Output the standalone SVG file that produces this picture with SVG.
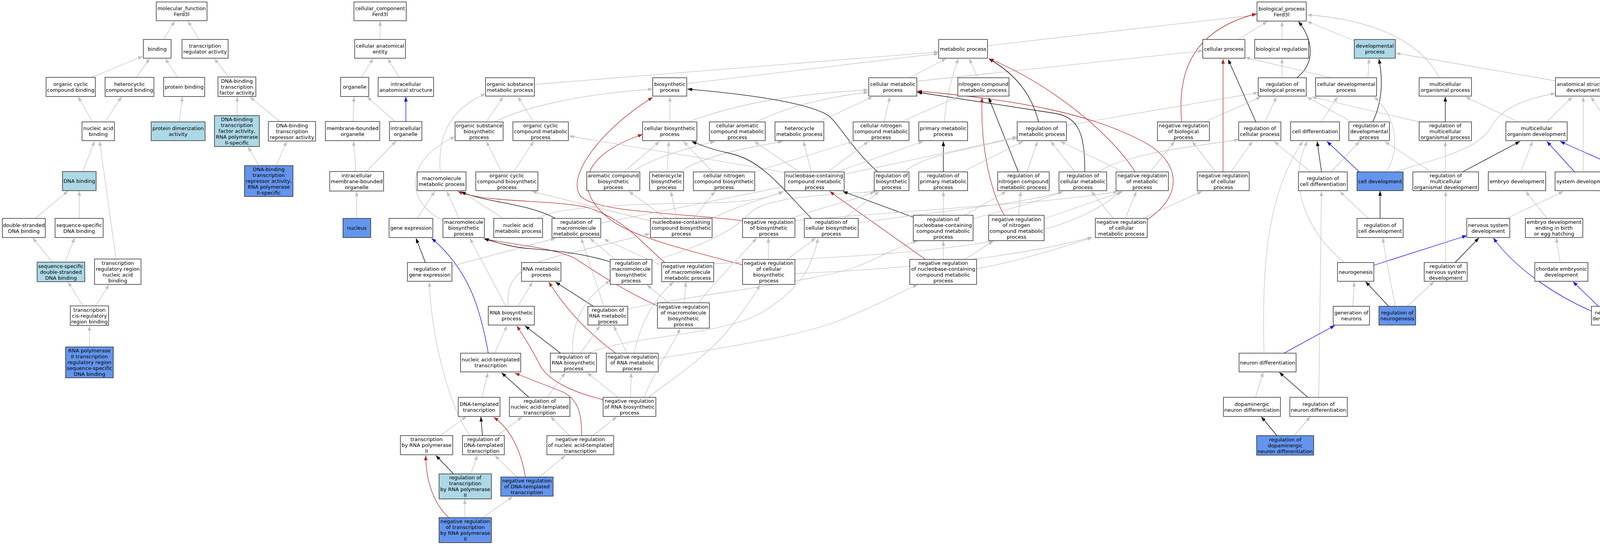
<svg xmlns="http://www.w3.org/2000/svg" width="4370" height="1395" viewBox="0 0 4370 1395">
<defs>
<style>
.n rect{fill:#fff;stroke:#222;stroke-width:1.4}
.lb rect{fill:#add8e6}
.db rect{fill:#6495ed}
text{font-family:"DejaVu Sans","Liberation Sans",sans-serif;font-size:13px;text-anchor:middle;fill:#000}
#edges path{fill:none;stroke-width:1.3}
.g{stroke:#c0c0c0;marker-end:url(#ag)}
.k{stroke:#000;marker-end:url(#ak)}
.b{stroke:#0000ff;marker-end:url(#ab)}
.r{stroke:#b22222;marker-end:url(#ar)}
</style>
<marker id="ag" viewBox="0 0 12 9" refX="12" refY="4.5" markerWidth="12" markerHeight="9" markerUnits="userSpaceOnUse" orient="auto"><path d="M0,0L12,4.5L0,9z" fill="#c0c0c0"/></marker>
<marker id="ak" viewBox="0 0 12 9" refX="12" refY="4.5" markerWidth="12" markerHeight="9" markerUnits="userSpaceOnUse" orient="auto"><path d="M0,0L12,4.5L0,9z" fill="#000"/></marker>
<marker id="ab" viewBox="0 0 12 9" refX="12" refY="4.5" markerWidth="12" markerHeight="9" markerUnits="userSpaceOnUse" orient="auto"><path d="M0,0L12,4.5L0,9z" fill="#0000ff"/></marker>
<marker id="ar" viewBox="0 0 12 9" refX="12" refY="4.5" markerWidth="12" markerHeight="9" markerUnits="userSpaceOnUse" orient="auto"><path d="M0,0L12,4.5L0,9z" fill="#b22222"/></marker>
</defs>
<rect x="0" y="0" width="4370" height="1395" fill="#fff"/>
<g id="edges">
<path class="g" d="M419,101L447,54"/>
<path class="g" d="M510,101L481,54"/>
<path class="g" d="M235,198L365,144"/>
<path class="g" d="M349,198L383,150"/>
<path class="g" d="M455,198L423,150"/>
<path class="g" d="M585,197L549,150"/>
<path class="g" d="M237,312L200,248"/>
<path class="g" d="M269,312L311,248"/>
<path class="g" d="M459,312L467,248"/>
<path class="g" d="M607,296L607,248"/>
<path class="g" d="M716,311L640,248"/>
<path class="g" d="M663,424L635,376"/>
<path class="g" d="M707,424L734,362"/>
<path class="g" d="M212,439L242,361"/>
<path class="g" d="M297,663L255,361"/>
<path class="g" d="M90,559L174,489"/>
<path class="g" d="M203,559L203,489"/>
<path class="g" d="M134,671L84,609"/>
<path class="g" d="M167,671L191,609"/>
<path class="g" d="M213,783L174,722"/>
<path class="g" d="M245,783L279,729"/>
<path class="g" d="M229,888L229,834"/>
<path class="g" d="M973,101L973,54"/>
<path class="g" d="M925,198L955,150"/>
<path class="g" d="M1022,198L993,150"/>
<path class="g" d="M904,311L906,248"/>
<path class="g" d="M1011,311L940,248"/>
<path class="b" d="M1039,311L1039,248"/>
<path class="g" d="M911,439L905,361"/>
<path class="g" d="M938,439L1014,361"/>
<path class="g" d="M913,559L913,490"/>
<path class="g" d="M3170,101L3244,55"/>
<path class="g" d="M3282,101L3282,55"/>
<path class="g" d="M3467,104L3346,55"/>
<path class="g" d="M2528,117L3217,38"/>
<path class="g" d="M3684,199C3640,110 3520,50 3346,38"/>
<path class="g" d="M3982,207L3573,136"/>
<path class="k" d="M3320,199C3370,160 3360,100 3324,55"/>
<path class="g" d="M3282,199L3282,150"/>
<path class="r" d="M3025,312C3015,200 3040,80 3217,35"/>
<path class="g" d="M3408,199L3188,147"/>
<path class="g" d="M3502,199L3505,150"/>
<path class="g" d="M2329,199L2422,150"/>
<path class="g" d="M2347,208L3079,130"/>
<path class="g" d="M2503,199L2481,150"/>
<path class="g" d="M2418,312C2420,250 2440,190 2453,150"/>
<path class="k" d="M2659,312C2640,240 2600,190 2531,150"/>
<path class="g" d="M2730,321L3221,237"/>
<path class="r" d="M2906,440C2850,350 2700,220 2532,150"/>
<path class="r" d="M2937,562C3030,500 3020,420 2940,370C2800,290 2600,255 2348,233"/>
<path class="k" d="M2777,440C2778,340 2760,300 2700,290L2348,236"/>
<path class="k" d="M2607,440L2531,250"/>
<path class="r" d="M2571,551C2530,480 2510,360 2514,250"/>
<path class="g" d="M2263,312L2278,248"/>
<path class="g" d="M2307,312L2452,248"/>
<path class="g" d="M2096,312L2234,248"/>
<path class="g" d="M1936,312C2000,280 2100,250 2223,236"/>
<path class="g" d="M1762,312C1900,260 2050,240 2223,230"/>
<path class="g" d="M1715,312L1715,248"/>
<path class="g" d="M1368,216L2403,133"/>
<path class="g" d="M1758,214L2403,137"/>
<path class="g" d="M1267,312C1350,270 1500,240 1671,228"/>
<path class="g" d="M1245,312L1288,248"/>
<path class="g" d="M1366,312L1326,248"/>
<path class="g" d="M1127,440C1120,350 1150,280 1243,240"/>
<path class="k" d="M2247,440C2180,380 2150,320 2120,295C2060,260 1900,240 1760,228"/>
<path class="r" d="M1901,565C1750,545 1520,545 1485,500C1450,450 1540,330 1671,249"/>
<path class="r" d="M1901,678C1800,650 1620,610 1560,560C1470,490 1480,400 1645,344"/>
<path class="k" d="M3215,312L3144,152"/>
<path class="g" d="M3084,312L3228,248"/>
<path class="g" d="M3238,312L3268,248"/>
<path class="g" d="M3383,312L3424,248"/>
<path class="g" d="M3460,312L3346,248"/>
<path class="g" d="M3633,312L3358,248"/>
<path class="k" d="M3514,312C3540,260 3540,200 3530,151"/>
<path class="k" d="M3700,312L3700,248"/>
<path class="g" d="M3886,312L3752,248"/>
<path class="g" d="M3960,312L4025,248"/>
<path class="g" d="M4204,312L4099,248"/>
<path class="g" d="M3408,440L3480,362"/>
<path class="k" d="M3383,440L3372,362"/>
<path class="g" d="M3355,440L3262,362"/>
<path class="b" d="M3480,440L3397,362"/>
<path class="g" d="M3548,440C3590,380 3570,290 3517,248"/>
<path class="g" d="M3571,440C3700,400 3790,380 3820,320C3850,270 3920,250 3982,239"/>
<path class="g" d="M3700,440L3700,362"/>
<path class="k" d="M3744,440L3891,362"/>
<path class="g" d="M3664,440L3545,362"/>
<path class="g" d="M3893,440L3923,362"/>
<path class="b" d="M4031,440L3960,362"/>
<path class="g" d="M4053,440L4053,248"/>
<path class="b" d="M4170,440L3994,362"/>
<path class="g" d="M4196,440L4073,248"/>
<path class="g" d="M3112,440L3052,362"/>
<path class="g" d="M3151,440L3206,362"/>
<path class="r" d="M3131,440L3131,151"/>
<path class="g" d="M2944,440L3007,362"/>
<path class="g" d="M2875,440L2715,362"/>
<path class="g" d="M2752,440L2690,362"/>
<path class="g" d="M2813,440C2880,390 3100,370 3171,357"/>
<path class="g" d="M2629,440L2656,362"/>
<path class="k" d="M2415,440L2415,362"/>
<path class="g" d="M2464,440L2619,362"/>
<path class="g" d="M2315,440C2360,400 2460,385 2604,353"/>
<path class="g" d="M2046,440L1931,362"/>
<path class="g" d="M2077,440L2057,362"/>
<path class="g" d="M2119,440L2223,362"/>
<path class="g" d="M2142,440L2363,362"/>
<path class="g" d="M2009,442C1900,420 1700,390 1457,348"/>
<path class="g" d="M1931,440L2184,362"/>
<path class="g" d="M1824,440L1750,362"/>
<path class="g" d="M1740,440C1800,400 1900,380 2004,362"/>
<path class="g" d="M1708,440L1712,362"/>
<path class="g" d="M1598,440L1688,362"/>
<path class="g" d="M1618,440C1680,400 1760,380 1830,362"/>
<path class="g" d="M1284,440L1245,362"/>
<path class="g" d="M1315,440L1366,362"/>
<path class="g" d="M1733,559L1717,490"/>
<path class="g" d="M1705,559L1610,490"/>
<path class="g" d="M1664,565L1362,490"/>
<path class="g" d="M1775,559L1830,490"/>
<path class="g" d="M1822,560C1880,530 1950,510 2007,490"/>
<path class="g" d="M1376,559C1420,530 1600,522 1800,520C1900,518 1960,510 2005,491"/>
<path class="g" d="M1068,559L1113,490"/>
<path class="g" d="M1175,559L1144,490"/>
<path class="g" d="M1288,559L1183,491"/>
<path class="k" d="M1422,559C1350,520 1250,520 1180,491"/>
<path class="r" d="M1702,672C1640,620 1600,560 1500,530C1400,510 1250,520 1172,490"/>
<path class="g" d="M1134,564C1040,520 1030,410 1165,350"/>
<path class="k" d="M1089,672L1065,610"/>
<path class="b" d="M1250,904C1230,790 1200,690 1105,610"/>
<path class="g" d="M1157,681L1422,610"/>
<path class="g" d="M1538,571C1800,520 2300,420 2604,350"/>
<path class="g" d="M1326,784L1363,722"/>
<path class="g" d="M1295,784L1203,610"/>
<path class="g" d="M1301,784C1295,720 1320,680 1450,650L1664,598"/>
<path class="k" d="M1519,784L1422,722"/>
<path class="g" d="M1546,784L1488,610"/>
<path class="g" d="M1607,791C1800,750 2100,720 2200,680C2260,655 2300,630 2349,617"/>
<path class="g" d="M1605,904L1571,834"/>
<path class="g" d="M1624,904C1640,820 1680,760 1724,722"/>
<path class="r" d="M1576,904C1530,870 1460,810 1405,722"/>
<path class="g" d="M1685,918C1850,890 2050,860 2150,820C2250,780 2300,750 2349,729"/>
<path class="k" d="M1435,904L1344,834"/>
<path class="g" d="M1486,904L1536,834"/>
<path class="g" d="M1466,904C1462,820 1500,760 1562,718"/>
<path class="g" d="M1508,904C1600,860 1850,860 1950,800C2050,740 2080,680 2094,610"/>
<path class="g" d="M1712,775L1656,729"/>
<path class="g" d="M1752,775L1756,722"/>
<path class="g" d="M1788,775C1850,700 1900,650 1937,610"/>
<path class="r" d="M1683,783C1600,745 1530,700 1470,660C1400,630 1300,625 1239,611"/>
<path class="k" d="M1562,670C1480,645 1400,640 1340,635C1300,630 1270,620 1239,611"/>
<path class="g" d="M1575,664L1510,610"/>
<path class="g" d="M1669,668C1800,630 1880,590 1920,545C1960,505 2100,500 2245,490"/>
<path class="g" d="M1694,680L1546,612"/>
<path class="g" d="M1827,675C2300,650 2700,640 2869,490"/>
<path class="g" d="M1266,904L1298,834"/>
<path class="g" d="M1234,1017L1249,954"/>
<path class="g" d="M1127,1115L1194,1066"/>
<path class="g" d="M1203,1115C1150,1040 1105,870 1099,722"/>
<path class="g" d="M1273,1115L1337,1067"/>
<path class="k" d="M1235,1115L1231,1067"/>
<path class="k" d="M1354,1017L1284,954"/>
<path class="g" d="M1401,1017L1447,954"/>
<path class="g" d="M1458,1115L1410,1067"/>
<path class="g" d="M1517,1115L1579,1067"/>
<path class="r" d="M1489,1115C1490,1050 1475,1020 1440,1003L1318,955"/>
<path class="g" d="M1582,1017L1503,954"/>
<path class="g" d="M1614,1017L1616,954"/>
<path class="g" d="M1649,1017C1680,940 1720,890 1741,841"/>
<path class="g" d="M1660,1017C1720,970 1800,920 1860,850C1900,800 1930,760 1945,729"/>
<path class="r" d="M1544,1023C1470,1005 1400,975 1380,930C1360,890 1340,860 1323,834"/>
<path class="k" d="M1161,1213L1116,1166"/>
<path class="g" d="M1205,1213L1222,1166"/>
<path class="g" d="M1323,1221L1267,1166"/>
<path class="g" d="M1381,1221L1447,1166"/>
<path class="r" d="M1345,1221C1335,1160 1310,1100 1264,1068"/>
<path class="g" d="M1190,1325L1190,1278"/>
<path class="g" d="M1236,1325L1312,1271"/>
<path class="r" d="M1149,1325C1105,1285 1090,1220 1090,1166"/>
<path class="g" d="M2415,664L2415,617"/>
<path class="g" d="M2470,664L2543,617"/>
<path class="r" d="M2369,664L2124,490"/>
<path class="g" d="M2500,688C2600,670 2700,640 2796,608"/>
<path class="k" d="M2338,556L2158,490"/>
<path class="g" d="M2415,551L2415,490"/>
<path class="g" d="M2469,551L2576,490"/>
<path class="g" d="M2491,560C2560,540 2650,520 2721,490"/>
<path class="g" d="M2607,551L2613,490"/>
<path class="g" d="M2673,560L2875,490"/>
<path class="g" d="M2881,559L2909,490"/>
<path class="g" d="M2850,559L2794,490"/>
<path class="g" d="M2925,559L3077,490"/>
<path class="k" d="M2077,559C2000,480 1950,410 1870,393C1830,385 1790,370 1771,362"/>
<path class="g" d="M2161,559L2251,490"/>
<path class="g" d="M2197,571C2400,540 2600,525 2721,491"/>
<path class="g" d="M2026,559C2100,530 2200,510 2239,490"/>
<path class="g" d="M2035,565C2300,540 2700,520 2862,490"/>
<path class="g" d="M2015,664L2088,609"/>
<path class="g" d="M1967,664L1967,609"/>
<path class="g" d="M2035,700C2300,690 2600,660 2796,607"/>
<path class="k" d="M3533,559L3533,489"/>
<path class="g" d="M3503,559L3430,490"/>
<path class="g" d="M3442,672C3350,600 3290,470 3347,362"/>
<path class="g" d="M3236,904C3230,700 3240,500 3335,362"/>
<path class="g" d="M3376,1017L3383,490"/>
<path class="k" d="M3555,784L3496,721"/>
<path class="g" d="M3572,784C3560,720 3545,650 3540,609"/>
<path class="g" d="M3603,784L3671,721"/>
<path class="g" d="M3463,784L3467,721"/>
<path class="b" d="M3287,904L3417,833"/>
<path class="g" d="M3214,1017L3234,953"/>
<path class="k" d="M3348,1017L3275,953"/>
<path class="k" d="M3269,1115L3229,1067"/>
<path class="g" d="M3313,1115L3354,1067"/>
<path class="b" d="M3517,679L3755,603"/>
<path class="k" d="M3725,672L3786,609"/>
<path class="g" d="M3701,672L3701,490"/>
<path class="b" d="M4074,796C3990,760 3880,690 3823,609"/>
<path class="b" d="M4092,784L4027,721"/>
<path class="g" d="M4146,784L4210,721"/>
<path class="g" d="M4123,784C4130,700 4160,600 4201,490"/>
<path class="b" d="M4216,904L4145,833"/>
<path class="g" d="M4264,904C4350,760 4368,600 4365,400C4363,300 4280,260 4126,237"/>
<path class="g" d="M4252,672C4290,590 4300,480 4266,362"/>
<path class="g" d="M3994,672L3984,609"/>
<path class="g" d="M3960,559L3906,490"/>
<path class="g" d="M3857,559L4002,490"/>
</g>
<g id="n_mf" class="n"><rect x="400" y="5" width="130" height="48"/><text x="465" y="26"><tspan x="465">molecular_function</tspan><tspan x="465" dy="15">Ferd3l</tspan></text></g>
<g id="n_binding" class="n"><rect x="367" y="101" width="71" height="48"/><text x="402.5" y="129.5">binding</text></g>
<g id="n_tra" class="n"><rect x="466" y="101" width="118" height="48"/><text x="525" y="122"><tspan x="525">transcription</tspan><tspan x="525" dy="15">regulator activity</tspan></text></g>
<g id="n_occb" class="n"><rect x="118" y="198" width="126" height="49"/><text x="181" y="219.5"><tspan x="181">organic cyclic</tspan><tspan x="181" dy="15">compound binding</tspan></text></g>
<g id="n_hcb" class="n"><rect x="269" y="198" width="125" height="49"/><text x="331.5" y="219.5"><tspan x="331.5">heterocyclic</tspan><tspan x="331.5" dy="15">compound binding</tspan></text></g>
<g id="n_pb" class="n"><rect x="419" y="198" width="105" height="49"/><text x="471.5" y="227">protein binding</text></g>
<g id="n_dbtf" class="n"><rect x="558" y="197" width="97" height="50"/><text x="606.5" y="211.5"><tspan x="606.5">DNA-binding</tspan><tspan x="606.5" dy="15">transcription</tspan><tspan x="606.5" dy="15">factor activity</tspan></text></g>
<g id="n_nab" class="n"><rect x="210" y="312" width="83" height="48"/><text x="251.5" y="333"><tspan x="251.5">nucleic acid</tspan><tspan x="251.5" dy="15">binding</tspan></text></g>
<g id="n_pda" class="n lb"><rect x="387" y="312" width="138" height="48"/><text x="456" y="333"><tspan x="456">protein dimerization</tspan><tspan x="456" dy="15">activity</tspan></text></g>
<g id="n_dbtf2" class="n lb"><rect x="549" y="296" width="115" height="79"/><text x="606.5" y="310"><tspan x="606.5">DNA-binding</tspan><tspan x="606.5" dy="15">transcription</tspan><tspan x="606.5" dy="15">factor activity,</tspan><tspan x="606.5" dy="15">RNA polymerase</tspan><tspan x="606.5" dy="15">II-specific</tspan></text></g>
<g id="n_dbtr" class="n"><rect x="687" y="311" width="121" height="50"/><text x="747.5" y="325.5"><tspan x="747.5">DNA-binding</tspan><tspan x="747.5" dy="15">transcription</tspan><tspan x="747.5" dy="15">repressor activity</tspan></text></g>
<g id="n_dnab" class="n lb"><rect x="160" y="439" width="86" height="49"/><text x="203" y="468">DNA binding</text></g>
<g id="n_dbtr2" class="n db"><rect x="626" y="424" width="124" height="79"/><text x="688" y="438"><tspan x="688">DNA-binding</tspan><tspan x="688" dy="15">transcription</tspan><tspan x="688" dy="15">repressor activity,</tspan><tspan x="688" dy="15">RNA polymerase</tspan><tspan x="688" dy="15">II-specific</tspan></text></g>
<g id="n_dsdb" class="n"><rect x="6" y="559" width="110" height="49"/><text x="61" y="580.5"><tspan x="61">double-stranded</tspan><tspan x="61" dy="15">DNA binding</tspan></text></g>
<g id="n_ssdb" class="n"><rect x="141" y="559" width="123" height="49"/><text x="202.5" y="580.5"><tspan x="202.5">sequence-specific</tspan><tspan x="202.5" dy="15">DNA binding</tspan></text></g>
<g id="n_ssds" class="n lb"><rect x="95" y="671" width="122" height="50"/><text x="156" y="685.5"><tspan x="156">sequence-specific</tspan><tspan x="156" dy="15">double-stranded</tspan><tspan x="156" dy="15">DNA binding</tspan></text></g>
<g id="n_trr" class="n"><rect x="242" y="663" width="119" height="65"/><text x="301.5" y="677.5"><tspan x="301.5">transcription</tspan><tspan x="301.5" dy="15">regulatory region</tspan><tspan x="301.5" dy="15">nucleic acid</tspan><tspan x="301.5" dy="15">binding</tspan></text></g>
<g id="n_tcr" class="n"><rect x="180" y="783" width="98" height="50"/><text x="229" y="797.5"><tspan x="229">transcription</tspan><tspan x="229" dy="15">cis-regulatory</tspan><tspan x="229" dy="15">region binding</tspan></text></g>
<g id="n_rp2" class="n db"><rect x="168" y="888" width="122" height="79"/><text x="229" y="902"><tspan x="229">RNA polymerase</tspan><tspan x="229" dy="15">II transcription</tspan><tspan x="229" dy="15">regulatory region</tspan><tspan x="229" dy="15">sequence-specific</tspan><tspan x="229" dy="15">DNA binding</tspan></text></g>
<g id="n_cc" class="n"><rect x="906" y="5" width="134" height="48"/><text x="973" y="26"><tspan x="973">cellular_component</tspan><tspan x="973" dy="15">Ferd3l</tspan></text></g>
<g id="n_cae" class="n"><rect x="908" y="101" width="130" height="48"/><text x="973" y="122"><tspan x="973">cellular anatomical</tspan><tspan x="973" dy="15">entity</tspan></text></g>
<g id="n_org" class="n"><rect x="872" y="198" width="72" height="49"/><text x="908" y="227">organelle</text></g>
<g id="n_ias" class="n"><rect x="968" y="198" width="142" height="49"/><text x="1039" y="219.5"><tspan x="1039">intracellular</tspan><tspan x="1039" dy="15">anatomical structure</tspan></text></g>
<g id="n_mbo" class="n"><rect x="833" y="311" width="139" height="49"/><text x="902.5" y="332.5"><tspan x="902.5">membrane-bounded</tspan><tspan x="902.5" dy="15">organelle</tspan></text></g>
<g id="n_io" class="n"><rect x="997" y="311" width="83" height="49"/><text x="1038.5" y="332.5"><tspan x="1038.5">intracellular</tspan><tspan x="1038.5" dy="15">organelle</tspan></text></g>
<g id="n_imbo" class="n"><rect x="844" y="439" width="138" height="50"/><text x="913" y="453.5"><tspan x="913">intracellular</tspan><tspan x="913" dy="15">membrane-bounded</tspan><tspan x="913" dy="15">organelle</tspan></text></g>
<g id="n_nucleus" class="n db"><rect x="878" y="559" width="71" height="49"/><text x="913.5" y="588">nucleus</text></g>
<g id="n_bp" class="n"><rect x="3218" y="5" width="126" height="49"/><text x="3281" y="26.5"><tspan x="3281">biological_process</tspan><tspan x="3281" dy="15">Ferd3l</tspan></text></g>
<g id="n_cp" class="n"><rect x="3079" y="101" width="108" height="48"/><text x="3133" y="129.5">cellular process</text></g>
<g id="n_br" class="n"><rect x="3212" y="101" width="138" height="48"/><text x="3281" y="129.5">biological regulation</text></g>
<g id="n_dp" class="n lb"><rect x="3467" y="101" width="105" height="48"/><text x="3519.5" y="122"><tspan x="3519.5">developmental</tspan><tspan x="3519.5" dy="15">process</tspan></text></g>
<g id="n_mp" class="n"><rect x="2403" y="101" width="125" height="48"/><text x="2465.5" y="129.5">metabolic process</text></g>
<g id="n_rbp" class="n"><rect x="3221" y="199" width="123" height="47"/><text x="3282.5" y="219.5"><tspan x="3282.5">regulation of</tspan><tspan x="3282.5" dy="15">biological process</tspan></text></g>
<g id="n_cdp" class="n"><rect x="3368" y="199" width="156" height="47"/><text x="3446" y="219.5"><tspan x="3446">cellular developmental</tspan><tspan x="3446" dy="15">process</tspan></text></g>
<g id="n_mop" class="n"><rect x="3633" y="199" width="134" height="47"/><text x="3700" y="219.5"><tspan x="3700">multicellular</tspan><tspan x="3700" dy="15">organismal process</tspan></text></g>
<g id="n_asd" class="n"><rect x="3982" y="199" width="142" height="47"/><text x="4053" y="219.5"><tspan x="4053">anatomical structure</tspan><tspan x="4053" dy="15">development</tspan></text></g>
<g id="n_osmp" class="n"><rect x="1243" y="199" width="125" height="47"/><text x="1305.5" y="219.5"><tspan x="1305.5">organic substance</tspan><tspan x="1305.5" dy="15">metabolic process</tspan></text></g>
<g id="n_bsp" class="n"><rect x="1671" y="199" width="87" height="47"/><text x="1714.5" y="219.5"><tspan x="1714.5">biosynthetic</tspan><tspan x="1714.5" dy="15">process</tspan></text></g>
<g id="n_cmp" class="n"><rect x="2224" y="199" width="123" height="47"/><text x="2285.5" y="219.5"><tspan x="2285.5">cellular metabolic</tspan><tspan x="2285.5" dy="15">process</tspan></text></g>
<g id="n_ncmp" class="n"><rect x="2452" y="199" width="131" height="47"/><text x="2517.5" y="219.5"><tspan x="2517.5">nitrogen compound</tspan><tspan x="2517.5" dy="15">metabolic process</tspan></text></g>
<g id="n_osbp" class="n"><rect x="1165" y="312" width="123" height="48"/><text x="1226.5" y="325.5"><tspan x="1226.5">organic substance</tspan><tspan x="1226.5" dy="15">biosynthetic</tspan><tspan x="1226.5" dy="15">process</tspan></text></g>
<g id="n_occmp" class="n"><rect x="1313" y="312" width="142" height="48"/><text x="1384" y="325.5"><tspan x="1384">organic cyclic</tspan><tspan x="1384" dy="15">compound metabolic</tspan><tspan x="1384" dy="15">process</tspan></text></g>
<g id="n_cbp" class="n"><rect x="1645" y="312" width="139" height="48"/><text x="1714.5" y="333"><tspan x="1714.5">cellular biosynthetic</tspan><tspan x="1714.5" dy="15">process</tspan></text></g>
<g id="n_cacmp" class="n"><rect x="1816" y="312" width="143" height="48"/><text x="1887.5" y="325.5"><tspan x="1887.5">cellular aromatic</tspan><tspan x="1887.5" dy="15">compound metabolic</tspan><tspan x="1887.5" dy="15">process</tspan></text></g>
<g id="n_hmp" class="n"><rect x="1984" y="312" width="125" height="48"/><text x="2046.5" y="333"><tspan x="2046.5">heterocycle</tspan><tspan x="2046.5" dy="15">metabolic process</tspan></text></g>
<g id="n_cncmp" class="n"><rect x="2184" y="312" width="143" height="48"/><text x="2255.5" y="325.5"><tspan x="2255.5">cellular nitrogen</tspan><tspan x="2255.5" dy="15">compound metabolic</tspan><tspan x="2255.5" dy="15">process</tspan></text></g>
<g id="n_pmp" class="n"><rect x="2352" y="312" width="125" height="48"/><text x="2414.5" y="333"><tspan x="2414.5">primary metabolic</tspan><tspan x="2414.5" dy="15">process</tspan></text></g>
<g id="n_rmp" class="n"><rect x="2604" y="312" width="126" height="48"/><text x="2667" y="333"><tspan x="2667">regulation of</tspan><tspan x="2667" dy="15">metabolic process</tspan></text></g>
<g id="n_nrbp" class="n"><rect x="2963" y="312" width="133" height="48"/><text x="3029.5" y="325.5"><tspan x="3029.5">negative regulation</tspan><tspan x="3029.5" dy="15">of biological</tspan><tspan x="3029.5" dy="15">process</tspan></text></g>
<g id="n_rcp" class="n"><rect x="3171" y="312" width="108" height="48"/><text x="3225" y="333"><tspan x="3225">regulation of</tspan><tspan x="3225" dy="15">cellular process</tspan></text></g>
<g id="n_cd" class="n"><rect x="3304" y="312" width="125" height="48"/><text x="3366.5" y="340.5">cell differentiation</text></g>
<g id="n_rdp" class="n"><rect x="3453" y="312" width="104" height="48"/><text x="3505" y="325.5"><tspan x="3505">regulation of</tspan><tspan x="3505" dy="15">developmental</tspan><tspan x="3505" dy="15">process</tspan></text></g>
<g id="n_rmop" class="n"><rect x="3633" y="312" width="134" height="48"/><text x="3700" y="325.5"><tspan x="3700">regulation of</tspan><tspan x="3700" dy="15">multicellular</tspan><tspan x="3700" dy="15">organismal process</tspan></text></g>
<g id="n_mod" class="n"><rect x="3855" y="312" width="157" height="48"/><text x="3933.5" y="333"><tspan x="3933.5">multicellular</tspan><tspan x="3933.5" dy="15">organism development</tspan></text></g>
<g id="n_td" class="n"><rect x="4178" y="312" width="134" height="48"/><text x="4245" y="340.5">tissue development</text></g>
<g id="n_mmp" class="n"><rect x="1068" y="440" width="125" height="48"/><text x="1130.5" y="461"><tspan x="1130.5">macromolecule</tspan><tspan x="1130.5" dy="15">metabolic process</tspan></text></g>
<g id="n_occbp" class="n"><rect x="1218" y="440" width="159" height="48"/><text x="1297.5" y="453.5"><tspan x="1297.5">organic cyclic</tspan><tspan x="1297.5" dy="15">compound biosynthetic</tspan><tspan x="1297.5" dy="15">process</tspan></text></g>
<g id="n_acbp" class="n"><rect x="1502" y="440" width="136" height="48"/><text x="1570" y="453.5"><tspan x="1570">aromatic compound</tspan><tspan x="1570" dy="15">biosynthetic</tspan><tspan x="1570" dy="15">process</tspan></text></g>
<g id="n_hbp" class="n"><rect x="1663" y="440" width="87" height="48"/><text x="1706.5" y="453.5"><tspan x="1706.5">heterocycle</tspan><tspan x="1706.5" dy="15">biosynthetic</tspan><tspan x="1706.5" dy="15">process</tspan></text></g>
<g id="n_cncbp" class="n"><rect x="1775" y="440" width="157" height="48"/><text x="1853.5" y="453.5"><tspan x="1853.5">cellular nitrogen</tspan><tspan x="1853.5" dy="15">compound biosynthetic</tspan><tspan x="1853.5" dy="15">process</tspan></text></g>
<g id="n_nccmp" class="n"><rect x="2009" y="440" width="152" height="48"/><text x="2085" y="453.5"><tspan x="2085">nucleobase-containing</tspan><tspan x="2085" dy="15">compound metabolic</tspan><tspan x="2085" dy="15">process</tspan></text></g>
<g id="n_rbsp" class="n"><rect x="2238" y="440" width="89" height="48"/><text x="2282.5" y="453.5"><tspan x="2282.5">regulation of</tspan><tspan x="2282.5" dy="15">biosynthetic</tspan><tspan x="2282.5" dy="15">process</tspan></text></g>
<g id="n_rpmp" class="n"><rect x="2352" y="440" width="125" height="48"/><text x="2414.5" y="453.5"><tspan x="2414.5">regulation of</tspan><tspan x="2414.5" dy="15">primary metabolic</tspan><tspan x="2414.5" dy="15">process</tspan></text></g>
<g id="n_rncmp" class="n"><rect x="2554" y="440" width="132" height="48"/><text x="2620" y="453.5"><tspan x="2620">regulation of</tspan><tspan x="2620" dy="15">nitrogen compound</tspan><tspan x="2620" dy="15">metabolic process</tspan></text></g>
<g id="n_rcmp" class="n"><rect x="2711" y="440" width="122" height="48"/><text x="2772" y="453.5"><tspan x="2772">regulation of</tspan><tspan x="2772" dy="15">cellular metabolic</tspan><tspan x="2772" dy="15">process</tspan></text></g>
<g id="n_nrmp" class="n"><rect x="2857" y="440" width="134" height="48"/><text x="2924" y="453.5"><tspan x="2924">negative regulation</tspan><tspan x="2924" dy="15">of metabolic</tspan><tspan x="2924" dy="15">process</tspan></text></g>
<g id="n_nrcp" class="n"><rect x="3065" y="440" width="133" height="48"/><text x="3131.5" y="453.5"><tspan x="3131.5">negative regulation</tspan><tspan x="3131.5" dy="15">of cellular</tspan><tspan x="3131.5" dy="15">process</tspan></text></g>
<g id="n_rcd" class="n"><rect x="3324" y="440" width="125" height="48"/><text x="3386.5" y="461"><tspan x="3386.5">regulation of</tspan><tspan x="3386.5" dy="15">cell differentiation</tspan></text></g>
<g id="n_cdev" class="n db"><rect x="3474" y="440" width="118" height="48"/><text x="3533" y="468.5">cell development</text></g>
<g id="n_rmod" class="n"><rect x="3617" y="440" width="168" height="48"/><text x="3701" y="453.5"><tspan x="3701">regulation of</tspan><tspan x="3701" dy="15">multicellular</tspan><tspan x="3701" dy="15">organismal development</tspan></text></g>
<g id="n_ed" class="n"><rect x="3810" y="440" width="147" height="48"/><text x="3883.5" y="468.5">embryo development</text></g>
<g id="n_sd" class="n"><rect x="3981" y="440" width="144" height="48"/><text x="4053" y="468.5">system development</text></g>
<g id="n_tube" class="n"><rect x="4149" y="440" width="126" height="48"/><text x="4212" y="468.5">tube development</text></g>
<g id="n_ge" class="n"><rect x="996" y="559" width="112" height="49"/><text x="1052" y="588">gene expression</text></g>
<g id="n_mbp" class="n"><rect x="1134" y="559" width="106" height="49"/><text x="1187" y="573"><tspan x="1187">macromolecule</tspan><tspan x="1187" dy="15">biosynthetic</tspan><tspan x="1187" dy="15">process</tspan></text></g>
<g id="n_namp" class="n"><rect x="1264" y="559" width="125" height="49"/><text x="1326.5" y="580.5"><tspan x="1326.5">nucleic acid</tspan><tspan x="1326.5" dy="15">metabolic process</tspan></text></g>
<g id="n_rmmp" class="n"><rect x="1413" y="559" width="125" height="49"/><text x="1475.5" y="573"><tspan x="1475.5">regulation of</tspan><tspan x="1475.5" dy="15">macromolecule</tspan><tspan x="1475.5" dy="15">metabolic process</tspan></text></g>
<g id="n_nccbp" class="n"><rect x="1665" y="559" width="158" height="49"/><text x="1744" y="573"><tspan x="1744">nucleobase-containing</tspan><tspan x="1744" dy="15">compound biosynthetic</tspan><tspan x="1744" dy="15">process</tspan></text></g>
<g id="n_nrbsp" class="n"><rect x="1901" y="559" width="134" height="49"/><text x="1968" y="573"><tspan x="1968">negative regulation</tspan><tspan x="1968" dy="15">of biosynthetic</tspan><tspan x="1968" dy="15">process</tspan></text></g>
<g id="n_rcbp" class="n"><rect x="2059" y="559" width="138" height="49"/><text x="2128" y="573"><tspan x="2128">regulation of</tspan><tspan x="2128" dy="15">cellular biosynthetic</tspan><tspan x="2128" dy="15">process</tspan></text></g>
<g id="n_rnccmp" class="n"><rect x="2338" y="551" width="153" height="65"/><text x="2414.5" y="565.5"><tspan x="2414.5">regulation of</tspan><tspan x="2414.5" dy="15">nucleobase-containing</tspan><tspan x="2414.5" dy="15">compound metabolic</tspan><tspan x="2414.5" dy="15">process</tspan></text></g>
<g id="n_nrncmp" class="n"><rect x="2531" y="551" width="142" height="65"/><text x="2602" y="565.5"><tspan x="2602">negative regulation</tspan><tspan x="2602" dy="15">of nitrogen</tspan><tspan x="2602" dy="15">compound metabolic</tspan><tspan x="2602" dy="15">process</tspan></text></g>
<g id="n_nrcmp" class="n"><rect x="2804" y="559" width="133" height="49"/><text x="2870.5" y="573"><tspan x="2870.5">negative regulation</tspan><tspan x="2870.5" dy="15">of cellular</tspan><tspan x="2870.5" dy="15">metabolic process</tspan></text></g>
<g id="n_rcdev" class="n"><rect x="3474" y="559" width="118" height="49"/><text x="3533" y="580.5"><tspan x="3533">regulation of</tspan><tspan x="3533" dy="15">cell development</tspan></text></g>
<g id="n_nsd" class="n"><rect x="3755" y="559" width="110" height="49"/><text x="3810" y="580.5"><tspan x="3810">nervous system</tspan><tspan x="3810" dy="15">development</tspan></text></g>
<g id="n_edeb" class="n"><rect x="3905" y="559" width="147" height="49"/><text x="3978.5" y="573"><tspan x="3978.5">embryo development</tspan><tspan x="3978.5" dy="15">ending in birth</tspan><tspan x="3978.5" dy="15">or egg hatching</tspan></text></g>
<g id="n_rge" class="n"><rect x="1043" y="672" width="114" height="48"/><text x="1100" y="693"><tspan x="1100">regulation of</tspan><tspan x="1100" dy="15">gene expression</tspan></text></g>
<g id="n_rnamp" class="n"><rect x="1335" y="672" width="101" height="48"/><text x="1385.5" y="693"><tspan x="1385.5">RNA metabolic</tspan><tspan x="1385.5" dy="15">process</tspan></text></g>
<g id="n_rmbp" class="n"><rect x="1562" y="664" width="107" height="64"/><text x="1615.5" y="678"><tspan x="1615.5">regulation of</tspan><tspan x="1615.5" dy="15">macromolecule</tspan><tspan x="1615.5" dy="15">biosynthetic</tspan><tspan x="1615.5" dy="15">process</tspan></text></g>
<g id="n_nrmmp" class="n"><rect x="1694" y="672" width="133" height="49"/><text x="1760.5" y="686"><tspan x="1760.5">negative regulation</tspan><tspan x="1760.5" dy="15">of macromolecule</tspan><tspan x="1760.5" dy="15">metabolic process</tspan></text></g>
<g id="n_nrcbp" class="n"><rect x="1901" y="664" width="134" height="64"/><text x="1968" y="678"><tspan x="1968">negative regulation</tspan><tspan x="1968" dy="15">of cellular</tspan><tspan x="1968" dy="15">biosynthetic</tspan><tspan x="1968" dy="15">process</tspan></text></g>
<g id="n_nrnccmp" class="n"><rect x="2329" y="664" width="171" height="64"/><text x="2414.5" y="678"><tspan x="2414.5">negative regulation</tspan><tspan x="2414.5" dy="15">of nucleobase-containing</tspan><tspan x="2414.5" dy="15">compound metabolic</tspan><tspan x="2414.5" dy="15">process</tspan></text></g>
<g id="n_neurog" class="n"><rect x="3424" y="672" width="93" height="48"/><text x="3470.5" y="700.5">neurogenesis</text></g>
<g id="n_rnsd" class="n"><rect x="3646" y="672" width="110" height="48"/><text x="3701" y="685.5"><tspan x="3701">regulation of</tspan><tspan x="3701" dy="15">nervous system</tspan><tspan x="3701" dy="15">development</tspan></text></g>
<g id="n_ced" class="n"><rect x="3929" y="672" width="136" height="48"/><text x="3997" y="693"><tspan x="3997">chordate embryonic</tspan><tspan x="3997" dy="15">development</tspan></text></g>
<g id="n_epd" class="n"><rect x="4158" y="672" width="167" height="48"/><text x="4241.5" y="700.5">epithelium development</text></g>
<g id="n_rnabp" class="n"><rect x="1250" y="784" width="118" height="48"/><text x="1309" y="805"><tspan x="1309">RNA biosynthetic</tspan><tspan x="1309" dy="15">process</tspan></text></g>
<g id="n_rrnamp" class="n"><rect x="1505" y="784" width="102" height="48"/><text x="1556" y="797.5"><tspan x="1556">regulation of</tspan><tspan x="1556" dy="15">RNA metabolic</tspan><tspan x="1556" dy="15">process</tspan></text></g>
<g id="n_nrmbp" class="n"><rect x="1683" y="775" width="133" height="65"/><text x="1749.5" y="790"><tspan x="1749.5">negative regulation</tspan><tspan x="1749.5" dy="15">of macromolecule</tspan><tspan x="1749.5" dy="15">biosynthetic</tspan><tspan x="1749.5" dy="15">process</tspan></text></g>
<g id="n_gon" class="n"><rect x="3413" y="784" width="93" height="48"/><text x="3459.5" y="805"><tspan x="3459.5">generation of</tspan><tspan x="3459.5" dy="15">neurons</tspan></text></g>
<g id="n_rneurog" class="n db"><rect x="3530" y="784" width="94" height="48"/><text x="3577" y="805"><tspan x="3577">regulation of</tspan><tspan x="3577" dy="15">neurogenesis</tspan></text></g>
<g id="n_ntd" class="n"><rect x="4074" y="784" width="92" height="48"/><text x="4120" y="805"><tspan x="4120">neural tube</tspan><tspan x="4120" dy="15">development</tspan></text></g>
<g id="n_natt" class="n"><rect x="1179" y="904" width="154" height="48"/><text x="1256" y="925"><tspan x="1256">nucleic acid-templated</tspan><tspan x="1256" dy="15">transcription</tspan></text></g>
<g id="n_rrnabp" class="n"><rect x="1409" y="904" width="118" height="48"/><text x="1468" y="917.5"><tspan x="1468">regulation of</tspan><tspan x="1468" dy="15">RNA biosynthetic</tspan><tspan x="1468" dy="15">process</tspan></text></g>
<g id="n_nrrnamp" class="n"><rect x="1552" y="904" width="133" height="48"/><text x="1618.5" y="917.5"><tspan x="1618.5">negative regulation</tspan><tspan x="1618.5" dy="15">of RNA metabolic</tspan><tspan x="1618.5" dy="15">process</tspan></text></g>
<g id="n_nd" class="n"><rect x="3172" y="904" width="146" height="48"/><text x="3245" y="932.5">neuron differentiation</text></g>
<g id="n_fpd" class="n db"><rect x="4196" y="904" width="91" height="48"/><text x="4241.5" y="925"><tspan x="4241.5">floor plate</tspan><tspan x="4241.5" dy="15">development</tspan></text></g>
<g id="n_dtt" class="n"><rect x="1173" y="1017" width="107" height="49"/><text x="1226.5" y="1038.5"><tspan x="1226.5">DNA-templated</tspan><tspan x="1226.5" dy="15">transcription</tspan></text></g>
<g id="n_rnatt" class="n"><rect x="1304" y="1017" width="155" height="49"/><text x="1381.5" y="1031"><tspan x="1381.5">regulation of</tspan><tspan x="1381.5" dy="15">nucleic acid-templated</tspan><tspan x="1381.5" dy="15">transcription</tspan></text></g>
<g id="n_nrrnabp" class="n"><rect x="1544" y="1017" width="135" height="49"/><text x="1611.5" y="1031"><tspan x="1611.5">negative regulation</tspan><tspan x="1611.5" dy="15">of RNA biosynthetic</tspan><tspan x="1611.5" dy="15">process</tspan></text></g>
<g id="n_dnd" class="n"><rect x="3132" y="1017" width="146" height="49"/><text x="3205" y="1038.5"><tspan x="3205">dopaminergic</tspan><tspan x="3205" dy="15">neuron differentiation</tspan></text></g>
<g id="n_rnd" class="n"><rect x="3302" y="1017" width="147" height="49"/><text x="3375.5" y="1038.5"><tspan x="3375.5">regulation of</tspan><tspan x="3375.5" dy="15">neuron differentiation</tspan></text></g>
<g id="n_trp2" class="n"><rect x="1025" y="1115" width="134" height="49"/><text x="1092" y="1129"><tspan x="1092">transcription</tspan><tspan x="1092" dy="15">by RNA polymerase</tspan><tspan x="1092" dy="15">II</tspan></text></g>
<g id="n_rdtt" class="n"><rect x="1184" y="1115" width="107" height="49"/><text x="1237.5" y="1129"><tspan x="1237.5">regulation of</tspan><tspan x="1237.5" dy="15">DNA-templated</tspan><tspan x="1237.5" dy="15">transcription</tspan></text></g>
<g id="n_nrnatt" class="n"><rect x="1400" y="1115" width="171" height="49"/><text x="1485.5" y="1129"><tspan x="1485.5">negative regulation</tspan><tspan x="1485.5" dy="15">of nucleic acid-templated</tspan><tspan x="1485.5" dy="15">transcription</tspan></text></g>
<g id="n_rdnd" class="n db"><rect x="3217" y="1115" width="146" height="50"/><text x="3290" y="1129.5"><tspan x="3290">regulation of</tspan><tspan x="3290" dy="15">dopaminergic</tspan><tspan x="3290" dy="15">neuron differentiation</tspan></text></g>
<g id="n_rtrp2" class="n lb"><rect x="1124" y="1213" width="134" height="64"/><text x="1191" y="1227"><tspan x="1191">regulation of</tspan><tspan x="1191" dy="15">transcription</tspan><tspan x="1191" dy="15">by RNA polymerase</tspan><tspan x="1191" dy="15">II</tspan></text></g>
<g id="n_nrdtt" class="n db"><rect x="1282" y="1221" width="134" height="49"/><text x="1349" y="1234.5"><tspan x="1349">negative regulation</tspan><tspan x="1349" dy="15">of DNA-templated</tspan><tspan x="1349" dy="15">transcription</tspan></text></g>
<g id="n_nrtrp2" class="n db"><rect x="1124" y="1325" width="134" height="64"/><text x="1191" y="1339"><tspan x="1191">negative regulation</tspan><tspan x="1191" dy="15">of transcription</tspan><tspan x="1191" dy="15">by RNA polymerase</tspan><tspan x="1191" dy="15">II</tspan></text></g>
</svg>
